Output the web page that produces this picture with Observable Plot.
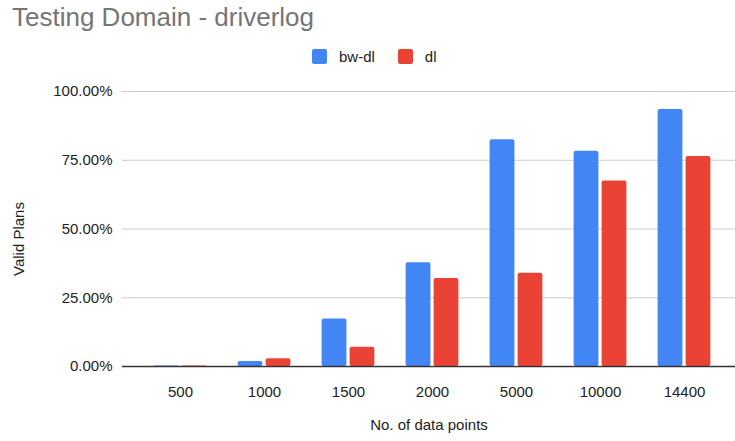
<!DOCTYPE html>
<html>
<head>
<meta charset="utf-8">
<script src="https://cdn.jsdelivr.net/npm/d3@7"></script>
<script src="https://cdn.jsdelivr.net/npm/@observablehq/plot@0.6"></script>
<style>
  html, body { margin: 0; padding: 0; background: #fff; }
  #wrap { position: relative; width: 735px; height: 441px; font-family: "Liberation Sans", Arial, sans-serif; overflow: hidden; }
  #title { position: absolute; left: 12px; top: 4px; font-size: 26px; line-height: 26px; color: #757575; white-space: nowrap; }
  #legend { position: absolute; left: 312px; top: 49px; display: flex; align-items: center; font-size: 15px; line-height: 15px; color: #222; }
  .sw { width: 15px; height: 15px; border-radius: 2px; display: inline-block; }
  .lab { margin-left: 12px; margin-right: 23px; }
  #chart { position: absolute; left: 0; top: 75px; }
</style>
</head>
<body>
<div id="wrap">
  <div id="title">Testing Domain - driverlog</div>
  <div id="legend"></div>
  <div id="chart"></div>
</div>
<script>
const categories = ["500", "1000", "1500", "2000", "5000", "10000", "14400"];
const seriesNames = ["bw-dl", "dl"];
const bwdlValues = [0.002, 0.018, 0.173, 0.377, 0.825, 0.783, 0.935];
const dlValues = [0.002, 0.028, 0.070, 0.320, 0.339, 0.675, 0.764];
const yTicks = [0, 0.25, 0.5, 0.75, 1];
const colors = ["#4285F4", "#EA4335"];

const bwdlData = categories.map((c, i) => ({cat: c, value: bwdlValues[i]}));
const dlData = categories.map((c, i) => ({cat: c, value: dlValues[i]}));

// legend
const legend = document.getElementById("legend");
seriesNames.forEach((s, i) => {
  const sw = document.createElement("span");
  sw.className = "sw";
  sw.style.background = colors[i];
  const lab = document.createElement("span");
  lab.className = "lab";
  lab.textContent = s;
  legend.appendChild(sw);
  legend.appendChild(lab);
});

const fmt = d3.format(".2%");

const chart = Plot.plot({
  width: 735,
  height: 366,
  marginTop: 16,
  marginBottom: 75,
  marginLeft: 122,
  marginRight: 0,
  style: {fontFamily: "Liberation Sans, Arial, sans-serif", fontSize: "15px", color: "#222", background: "#fff"},
  x: {type: "band", domain: categories, paddingInner: 0, paddingOuter: 0.14, align: 0.64, label: null, tickSize: 0, tickPadding: 20},
  y: {domain: [0, 1], ticks: yTicks, tickFormat: fmt, label: null, tickSize: 0, tickPadding: 10},
  marks: [
    Plot.ruleY(yTicks.filter(d => d > 0), {stroke: "#cccccc", strokeWidth: 1}),
    Plot.barY(bwdlData, {x: "cat", y: "value", fill: colors[0], insetLeft: 15.6, insetRight: 43.6, rx: 2}),
    Plot.barY(dlData, {x: "cat", y: "value", fill: colors[1], insetLeft: 43.6, insetRight: 15.6, rx: 2}),
    Plot.ruleY([0], {stroke: "#333333", strokeWidth: 1.3}),
    Plot.text(["No. of data points"], {frameAnchor: "bottom", dy: 63, fontSize: 15, fill: "#222"}),
    Plot.text(["Valid Plans"], {frameAnchor: "left", textAnchor: "middle", dx: -103, dy: 10, rotate: -90, fontSize: 15, fill: "#222"})
  ]
});
document.getElementById("chart").appendChild(chart);
</script>
</body>
</html>
